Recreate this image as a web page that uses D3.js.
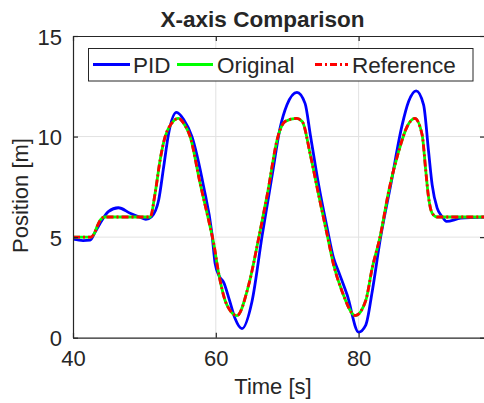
<!DOCTYPE html>
<html>
<head>
<meta charset="utf-8">
<script src="https://cdn.jsdelivr.net/npm/d3@7"></script>
<style>
  body { margin: 0; background: #fff; }
  svg { display: block; }
  text { font-family: "Liberation Sans", Arial, Helvetica, sans-serif; fill: #262626; }
</style>
</head>
<body>
<svg id="chart" width="484" height="403"></svg>
<script>
// time [s] and position [m]
var refTime = [40, 42.5, 43.0, 43.4, 43.9, 44.4, 50.8, 51.5, 52.2, 52.9, 53.8, 54.77, 55.6, 56.4, 57.8, 59.2, 59.7, 60.4, 61.3, 62.0, 62.96,
  64.6, 66.0, 67.2, 68.7, 69.7, 71.3, 72.1, 73.24, 74.4, 75.6, 76.5, 77.7, 79.55,
  81.0, 81.9, 83.06, 84.2, 85.6, 86.8, 87.87, 88.9, 89.37, 89.75, 90.3, 91.0, 97.7];
var refPos = [5.0, 5.0, 5.2, 5.55, 5.88, 6.0, 6.0, 7.18, 8.84, 10.0, 10.65, 10.9, 10.6, 10.0, 7.68, 5.52, 4.7, 3.2, 1.85, 1.35, 1.1,
  2.62, 4.94, 7.1, 10.0, 10.75, 10.9, 10.75, 9.09, 7.1, 5.11, 3.62, 2.29, 1.1,
  1.85, 3.45, 5.11, 7.26, 9.25, 10.5, 10.9, 10.08, 8.43, 7.1, 6.19, 6.0, 6.0];

var origTime = [40, 42.5, 43.0, 43.4, 43.9, 44.4, 50.8, 51.5, 52.2, 52.9, 53.8, 54.77, 55.6, 56.4, 57.8, 59.2, 59.7, 60.4, 61.3, 62.0, 62.96,
  64.6, 66.0, 67.2, 68.7, 69.7, 71.3, 72.1, 73.24, 74.4, 75.6, 76.5, 77.7, 79.55,
  81.0, 81.9, 83.06, 84.2, 85.6, 86.8, 87.87, 88.9, 89.37, 89.75, 90.3, 91.0, 97.7];
var origPos = [5.0, 5.0, 5.2, 5.55, 5.88, 6.0, 6.0, 7.18, 8.84, 10.0, 10.65, 10.9, 10.6, 10.0, 7.68, 5.52, 4.7, 3.2, 1.85, 1.35, 1.1,
  2.62, 4.94, 7.1, 10.0, 10.75, 10.9, 10.75, 9.09, 7.1, 5.11, 3.62, 2.29, 1.1,
  1.85, 3.45, 5.11, 7.26, 9.25, 10.5, 10.9, 10.08, 8.43, 7.1, 6.19, 6.0, 6.0];

var pidTime = [40, 41.4, 42.4, 43.1, 43.8, 44.95, 46.35, 48.0, 49.4, 50.2, 51.0, 52.0, 52.7, 53.4, 54.5, 55.5, 56.65, 58.3, 59.45, 59.9,
  60.5, 61.1, 61.9, 62.7, 63.66, 65.06, 66.5, 67.9, 69.0, 69.97, 71.37, 72.5, 73.24, 74.4, 75.6, 76.5, 77.2, 78.4, 80.0,
  81.0, 81.9, 83.06, 84.5, 86.1, 87.0, 88.06, 89.1, 89.8, 90.3, 91.0, 91.7, 92.3, 94.3, 97.7];
var pidPos = [4.9, 4.83, 4.85, 5.25, 5.69, 6.27, 6.46, 6.19, 5.99, 5.89, 6.02, 6.85, 8.5, 10.17, 11.2, 10.85, 10.0, 7.5, 5.2, 3.7,
  3.05, 2.75, 1.88, 0.95, 0.45, 1.79, 5.1, 8.1, 10.42, 11.58, 12.2, 11.65, 10.08, 7.6, 5.44, 3.95, 3.28, 2.12, 0.28,
  0.63, 2.29, 4.95, 7.6, 10.58, 11.74, 12.27, 11.58, 9.25, 7.6, 6.44, 6.02, 5.78, 5.94, 6.0];

var xTicks = [40, 60, 80];
var yTicks = [0, 5, 10, 15];
var seriesNames = ["PID", "Original", "Reference"];

var svg = d3.select("#chart");
var plotLeft = 73, plotRight = 485, plotTop = 36, plotBottom = 337.7;

var x = d3.scaleLinear().domain([40, 97.7]).range([plotLeft, plotRight]);
var y = d3.scaleLinear().domain([0, 15]).range([plotBottom, plotTop]);

// grid
svg.append("g").selectAll("line").data(xTicks.slice(1)).enter().append("line")
  .attr("x1", function(d) { return x(d); }).attr("x2", function(d) { return x(d); })
  .attr("y1", plotTop).attr("y2", plotBottom)
  .attr("stroke", "#e2e2e2").attr("stroke-width", 1);
svg.append("g").selectAll("line").data(yTicks.slice(1, 3)).enter().append("line")
  .attr("x1", plotLeft).attr("x2", plotRight)
  .attr("y1", function(d) { return y(d); }).attr("y2", function(d) { return y(d); })
  .attr("stroke", "#e2e2e2").attr("stroke-width", 1);

// lines
var line = d3.line()
  .x(function(d) { return x(d[0]); })
  .y(function(d) { return y(d[1]); })
  .curve(d3.curveMonotoneX);

svg.append("clipPath").attr("id", "clip").append("rect")
  .attr("x", plotLeft).attr("y", plotTop).attr("width", plotRight - plotLeft).attr("height", plotBottom - plotTop);

var plot = svg.append("g").attr("clip-path", "url(#clip)");
plot.append("path").datum(d3.zip(pidTime, pidPos)).attr("d", line)
  .attr("fill", "none").attr("stroke", "#0000ff").attr("stroke-width", 2.8);
plot.append("path").datum(d3.zip(origTime, origPos)).attr("d", line)
  .attr("fill", "none").attr("stroke", "#00ff00").attr("stroke-width", 2.8);
plot.append("path").datum(d3.zip(refTime, refPos)).attr("d", line)
  .attr("fill", "none").attr("stroke", "#ff0000").attr("stroke-width", 2.8)
  .attr("stroke-dasharray", "7,3,2,3");

// axes
function styleAxis(g) {
  g.selectAll(".domain").attr("stroke", "#262626").attr("stroke-width", 1.2);
  g.selectAll(".tick line").attr("stroke", "#262626").attr("stroke-width", 1.2);
  g.selectAll("text").attr("font-size", "22px").attr("fill", "#262626")
    .attr("font-family", "'Liberation Sans', Arial, sans-serif");
}
svg.append("g").attr("transform", "translate(0," + plotBottom + ")")
  .call(d3.axisBottom(x).tickValues(xTicks).tickSizeInner(-5).tickSizeOuter(0).tickPadding(12.5))
  .call(styleAxis);
svg.append("g").attr("transform", "translate(0," + plotTop + ")")
  .call(d3.axisTop(x).tickValues(xTicks).tickSizeInner(-5).tickSizeOuter(0).tickFormat(""))
  .call(styleAxis);
svg.append("g").attr("transform", "translate(" + plotLeft + ",0)")
  .call(d3.axisLeft(y).tickValues(yTicks).tickSizeInner(-5).tickSizeOuter(0).tickPadding(11))
  .call(styleAxis)
  .selectAll(".tick text").attr("dy", "0.37em");
svg.append("g").attr("transform", "translate(" + plotRight + ",0)")
  .call(d3.axisRight(y).tickValues(yTicks).tickSizeInner(-5).tickSizeOuter(0).tickFormat(""))
  .call(styleAxis);

// labels
svg.append("text").attr("x", 262.5).attr("y", 26.5).attr("text-anchor", "middle")
  .attr("font-size", "22.5px").attr("font-weight", "bold").attr("fill", "#000")
  .text("X-axis Comparison");
svg.append("text").attr("x", 273).attr("y", 394).attr("text-anchor", "middle")
  .attr("font-size", "22px").text("Time [s]");
svg.append("text").attr("transform", "translate(28,195.5) rotate(-90)").attr("text-anchor", "middle")
  .attr("font-size", "22px").text("Position [m]");

// legend
var legend = svg.append("g");
legend.append("rect").attr("x", 88.5).attr("y", 48.5).attr("width", 384.5).attr("height", 32.5)
  .attr("fill", "#fff").attr("stroke", "#262626").attr("stroke-width", 1);
var legendItems = [
  { name: seriesNames[0], color: "#0000ff", dash: null, x0: 93, x1: 130, tx: 133 },
  { name: seriesNames[1], color: "#00ff00", dash: null, x0: 177, x1: 213, tx: 217 },
  { name: seriesNames[2], color: "#ff0000", dash: "7,3,2,3", x0: 315, x1: 348, tx: 352 }
];
legendItems.forEach(function(it) {
  legend.append("line").attr("x1", it.x0).attr("x2", it.x1).attr("y1", 64.5).attr("y2", 64.5)
    .attr("stroke", it.color).attr("stroke-width", 2.8)
    .attr("stroke-dasharray", it.dash);
  legend.append("text").attr("x", it.tx).attr("y", 72.5).attr("font-size", "22.5px")
    .attr("fill", "#000").text(it.name);
});
</script>
</body>
</html>
